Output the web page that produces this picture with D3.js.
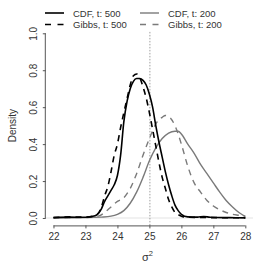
<!DOCTYPE html>
<html><head><meta charset="utf-8">
<script src="https://cdn.jsdelivr.net/npm/d3@7"></script>
<style>body{margin:0;background:#fff}svg{display:block}text{font-family:"Liberation Sans",Arial,sans-serif;fill:#333}</style>
</head><body><svg id="c" width="266" height="266"></svg>
<script>
const xTicks = [22,23,24,25,26,27,28];
const yTicks = [0.0,0.2,0.4,0.6,0.8,1.0];
const yTickLabels = ["0.0","0.2","0.4","0.6","0.8","1.0"];
const seriesNames = ["CDF, t: 500","Gibbs, t: 500","CDF, t: 200","Gibbs, t: 200"];

const cdf500X = [22.0,22.5,23.0,23.2,23.35,23.5,23.6,23.7,23.8,23.9,24.0,24.1,24.2,24.3,24.4,24.5,24.6,24.7,24.8,24.9,25.0,25.1,25.2,25.3,25.4,25.5,25.6,25.7,25.8,25.9,26.0,26.2,26.5,26.7,26.9,27.5,28.0];
const cdf500Y = [0.003,0.005,0.004,0.008,0.016,0.05,0.09,0.12,0.15,0.18,0.23,0.34,0.52,0.63,0.70,0.74,0.755,0.755,0.745,0.72,0.67,0.60,0.50,0.41,0.33,0.25,0.18,0.12,0.07,0.04,0.02,0.006,0.005,0.008,0.004,0.002,0.001];

const gibbs500X = [22.0,22.5,23.0,23.3,23.4,23.5,23.6,23.7,23.8,23.9,24.0,24.1,24.2,24.3,24.4,24.5,24.6,24.7,24.8,24.9,25.0,25.1,25.2,25.3,25.4,25.5,25.6,25.7,25.8,25.9,26.0,26.2,26.5,27.0,28.0];
const gibbs500Y = [0.002,0.006,0.005,0.012,0.025,0.06,0.12,0.17,0.25,0.34,0.40,0.49,0.57,0.645,0.72,0.77,0.78,0.76,0.71,0.65,0.57,0.48,0.39,0.30,0.22,0.16,0.10,0.06,0.03,0.018,0.01,0.004,0.003,0.002,0.001];

const cdf200X = [22.0,23.0,23.5,23.8,24.0,24.2,24.4,24.6,24.8,25.0,25.2,25.4,25.6,25.8,25.9,26.0,26.2,26.4,26.6,26.8,27.0,27.2,27.4,27.6,27.8,28.0];
const cdf200Y = [0.001,0.002,0.005,0.01,0.02,0.04,0.08,0.14,0.22,0.31,0.38,0.43,0.46,0.47,0.47,0.455,0.40,0.35,0.29,0.24,0.19,0.14,0.095,0.06,0.03,0.008];

const gibbs200X = [22.0,23.0,23.4,23.6,23.8,24.0,24.2,24.4,24.6,24.8,25.0,25.2,25.4,25.5,25.6,25.8,26.0,26.2,26.4,26.6,26.8,27.0,27.2,27.4,27.6,27.8,28.0];
const gibbs200Y = [0.001,0.003,0.01,0.03,0.06,0.09,0.11,0.16,0.24,0.34,0.43,0.51,0.545,0.555,0.55,0.50,0.40,0.28,0.19,0.14,0.095,0.065,0.045,0.03,0.02,0.015,0.01];

const trueValue = 25;

const svg = d3.select("#c");
const x = d3.scaleLinear().domain([21.76,28.24]).range([45.8,253.0]);
const y = d3.scaleLinear().domain([-0.04,1.04]).range([225.4,25.9]);

svg.append("line").attr("x1",x(21.76)).attr("x2",x(28.24)).attr("y1",y(0)).attr("y2",y(0))
  .attr("stroke","#e3e3e3").attr("stroke-width",1);
svg.append("line").attr("x1",x(trueValue)+0.5).attr("x2",x(trueValue)+0.5).attr("y1",y(-0.04)).attr("y2",y(1.04))
  .attr("stroke","#888").attr("stroke-width",0.8).attr("stroke-dasharray","1.5,1.5");

const line = d3.line().curve(d3.curveMonotoneX).x(d=>x(d[0])).y(d=>y(d[1]));
const series = [
  {xs:cdf200X, ys:cdf200Y, color:"#7a7a7a", w:1.4, dash:null},
  {xs:gibbs200X, ys:gibbs200Y, color:"#7a7a7a", w:1.4, dash:"6,5"},
  {xs:cdf500X, ys:cdf500Y, color:"#000", w:1.6, dash:null},
  {xs:gibbs500X, ys:gibbs500Y, color:"#000", w:1.6, dash:"6,5"}
];
series.forEach(s=>{
  svg.append("path").datum(s.xs.map((v,i)=>[v,s.ys[i]])).attr("d",line)
    .attr("fill","none").attr("stroke",s.color).attr("stroke-width",s.w)
    .attr("stroke-dasharray",s.dash).attr("stroke-linejoin","round");
});

svg.append("rect").attr("x",40).attr("y",0).attr("width",226).attr("height",31).attr("fill","#fff");
const legend = [
  {name:seriesNames[0], color:"#000", w:1.6, dash:null, lx:45, ly:13},
  {name:seriesNames[1], color:"#000", w:1.6, dash:"6,6.5", lx:45, ly:24.5},
  {name:seriesNames[2], color:"#7a7a7a", w:1.4, dash:null, lx:140, ly:13},
  {name:seriesNames[3], color:"#7a7a7a", w:1.4, dash:"6,6.5", lx:140, ly:24.5}
];
legend.forEach(l=>{
  svg.append("line").attr("x1",l.lx).attr("x2",l.lx+19).attr("y1",l.ly).attr("y2",l.ly)
    .attr("stroke",l.color).attr("stroke-width",l.w).attr("stroke-dasharray",l.dash);
  svg.append("text").attr("x",l.lx+28).attr("y",l.ly+3.5).attr("font-size",9.5).text(l.name);
});

const xAxis = d3.axisBottom(x).tickValues(xTicks).tickSize(3).tickFormat(d3.format("d"));
const gx = svg.append("g").attr("transform",`translate(0,${y(-0.04)})`).call(xAxis);
gx.select(".domain").attr("d",`M${x(22)},0.5H${x(28)}`).attr("stroke","#555");
gx.selectAll(".tick line").attr("stroke","#555");
gx.selectAll(".tick text").attr("font-size",10).attr("font-family","Liberation Sans, Arial").attr("fill","#333").attr("dy","0.9em");

const yAxis = d3.axisLeft(y).tickValues(yTicks).tickSize(3).tickFormat((d,i)=>yTickLabels[i]);
const gy = svg.append("g").attr("transform",`translate(${x(21.76)},0)`).call(yAxis);
gy.select(".domain").attr("d",`M-0.5,${y(0)}V${y(1)}`).attr("stroke","#555");
gy.selectAll(".tick line").attr("stroke","#555");
gy.selectAll(".tick text").attr("font-size",10).attr("font-family","Liberation Sans, Arial").attr("fill","#333")
  .attr("transform","rotate(-90)").attr("x",0).attr("y",-9).attr("dy","0").attr("text-anchor","middle");

svg.append("text").attr("transform",`translate(15.5,${(y(-0.04)+y(1.04))/2}) rotate(-90)`)
  .attr("text-anchor","middle").attr("font-size",10).text("Density");
const xl = svg.append("text").attr("x",x(25)-2).attr("y",261).attr("text-anchor","middle").attr("font-size",11);
xl.append("tspan").text("σ");
xl.append("tspan").attr("font-size",7.5).attr("dy",-5).text("2");
</script></body></html>
